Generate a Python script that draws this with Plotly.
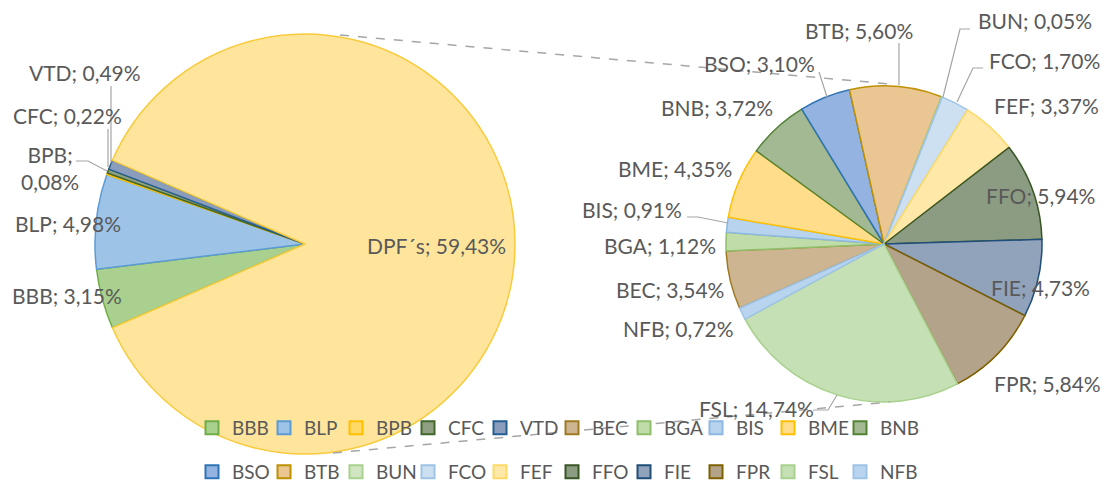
import plotly.graph_objects as go

W, H = 1105, 482

# ---------------- data ----------------
left_labels = ["BBB", "BLP", "BPB", "CFC", "VTD", "DPF´s"]
left_values = [3.15, 4.98, 0.08, 0.22, 0.49, 59.43]
left_fill = ["#a9d08e", "#9dc3e6", "#ffd966", "#8fa182", "#8a9dbd", "#ffe59c"]
left_line = ["#70ad47", "#5b9bd5", "#ffc000", "#43682b", "#255e91", "#f8cb3c"]

right_labels = ["BEC", "BGA", "BIS", "BME", "BNB", "BSO", "BTB", "BUN",
                "FCO", "FEF", "FFO", "FIE", "FPR", "FSL", "NFB"]
right_values = [3.54, 1.12, 0.91, 4.35, 3.72, 3.10, 5.60, 0.05,
                1.70, 3.37, 5.94, 4.73, 5.84, 14.74, 0.72]
right_fill = ["#cdb592", "#c0dca9", "#b8d3ee", "#ffdd8a", "#a2b993", "#95b3e0",
              "#e9c692", "#d0e6c2", "#cde0f2", "#ffe8a8", "#8c9c83", "#91a2bb",
              "#b3a38b", "#c5e0b4", "#b9d4ef"]
right_line = ["#9e7b23", "#8fbf6a", "#8db8e2", "#ffc000", "#548235", "#2e75b6",
              "#bf9000", "#a9d18e", "#9dc3e6", "#ffd966", "#375623", "#1f4e79",
              "#7f6000", "#a9d18e", "#9dc3e6"]

legend_row1 = ["BBB", "BLP", "BPB", "CFC", "VTD", "BEC", "BGA", "BIS", "BME", "BNB"]
legend_row2 = ["BSO", "BTB", "BUN", "FCO", "FEF", "FFO", "FIE", "FPR", "FSL", "NFB"]

TEXT = "#595959"
FONT = "Lato"


def px(x):
    return x / W


def py(y):
    return 1 - y / H


def fmt(v):
    return f"{v:.2f}".replace(".", ",") + "%"


fig = go.Figure()

# left pie: center (305,244), r 210
fig.add_trace(go.Pie(
    labels=left_labels, values=left_values, sort=False, direction="clockwise",
    rotation=246.5, textinfo="none", hoverinfo="label+value", showlegend=False,
    marker=dict(colors=left_fill, line=dict(color=left_line, width=1.5)),
    domain=dict(x=[px(95), px(515)], y=[py(454), py(34)]),
))
# right pie: center (884,244), r 158
fig.add_trace(go.Pie(
    labels=right_labels, values=right_values, sort=False, direction="clockwise",
    rotation=246, textinfo="none", hoverinfo="label+value", showlegend=False,
    marker=dict(colors=right_fill, line=dict(color=right_line, width=1.5)),
    domain=dict(x=[px(726), px(1042)], y=[py(402), py(86)]),
))

# legend entries (dummy square markers)
all_lab = left_labels[:-1] + right_labels
fill_map = dict(zip(all_lab, left_fill[:-1] + right_fill))
line_map = dict(zip(all_lab, left_line[:-1] + right_line))
for row, lg in ((legend_row1, "legend"), (legend_row2, "legend2")):
    for i, name in enumerate(row):
        fig.add_trace(go.Scatter(
            x=[None], y=[None], mode="markers", name=name, legend=lg,
            legendwidth=50 if i == len(row) - 1 else None,
            marker=dict(symbol="square", size=13, color=fill_map[name],
                        line=dict(color=line_map[name], width=2)),
        ))

# data labels
lab_pos = {
    "VTD": (85, 72), "CFC": (67, 115), "BPB": (50, 168), "BLP": (68, 223),
    "BBB": (67, 295), "DPF´s": (436, 245),
    "BTB": (859, 30), "BUN": (1035, 21), "FCO": (1044, 60), "FEF": (1046, 105),
    "FFO": (1040, 195), "FIE": (1040, 287), "FPR": (1047, 383), "FSL": (756, 408),
    "NFB": (678, 328), "BEC": (670, 289), "BGA": (660, 245), "BIS": (632, 209),
    "BME": (675, 168), "BNB": (717, 108), "BSO": (759, 64),
}
annotations = []
for name, val in list(zip(left_labels, left_values)) + list(zip(right_labels, right_values)):
    sep = ";<br>" if name == "BPB" else "; "
    x, y = lab_pos[name]
    annotations.append(dict(
        x=px(x), y=py(y), xref="paper", yref="paper", showarrow=False,
        text=f"{name}{sep}{fmt(val)}", font=dict(family=FONT, size=21, color=TEXT),
        xanchor="center", yanchor="middle",
    ))

# connector (dashed) lines between pies and leader lines
shapes = [
    dict(type="line", xref="paper", yref="paper", x0=px(340), y0=py(35), x1=px(890), y1=py(84),
         line=dict(color="#a6a6a6", width=1.5, dash="dash")),
    dict(type="line", xref="paper", yref="paper", x0=px(333), y0=py(453), x1=px(890), y1=py(402),
         line=dict(color="#a6a6a6", width=1.5, dash="dash")),
]
leaders = [
    [(111, 86), (111, 163)],
    [(108, 129), (108, 167)],
    [(76, 161), (88, 161), (107, 171)],
    [(899, 43), (899, 85)],
    [(970, 29), (960, 29), (943, 97)],
    [(983, 68), (973, 68), (957, 102)],
    [(813, 410), (828, 410), (837, 395)],
    [(687, 217), (698, 217), (728, 223)],
    [(819, 72), (827, 97)],
]
for pts in leaders:
    path = "M " + " L ".join(f"{px(a)},{py(b)}" for a, b in pts)
    shapes.append(dict(type="path", xref="paper", yref="paper", path=path,
                       line=dict(color="#a6a6a6", width=1.2)))

leg_common = dict(orientation="h", xanchor="left", yanchor="middle",
                  font=dict(family=FONT, size=19, color=TEXT),
                  entrywidth=27, entrywidthmode="pixels", bgcolor="rgba(0,0,0,0)",
                  itemclick=False, itemdoubleclick=False)

fig.update_layout(
    width=W, height=H, margin=dict(l=0, r=0, t=0, b=0, autoexpand=False),
    paper_bgcolor="white", plot_bgcolor="white",
    xaxis=dict(visible=False), yaxis=dict(visible=False),
    annotations=annotations, shapes=shapes,
    legend=dict(x=px(192), y=py(428), **leg_common),
    legend2=dict(x=px(192), y=py(472), **leg_common),
)

fig.write_html("out.html", config={"displayModeBar": False},
               post_script="document.body.style.margin='0px';")
